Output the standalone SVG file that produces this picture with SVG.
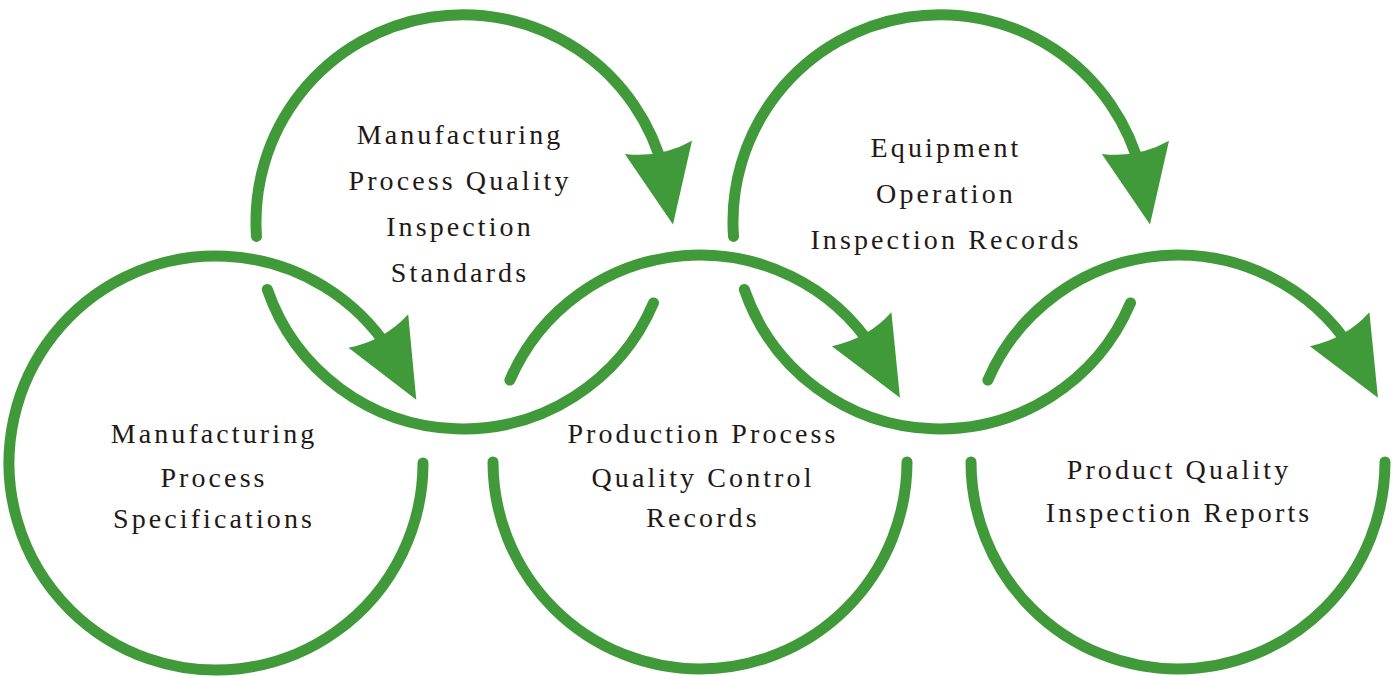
<svg xmlns="http://www.w3.org/2000/svg" xmlns:xlink="http://www.w3.org/1999/xlink" width="1393" height="678" viewBox="0 0 1393 678">
<style>
.ring{fill:none;stroke:#419a39;stroke-width:11;stroke-linecap:round}
.ah{fill:#419a39}
.lbl{font-family:"Liberation Serif","Times New Roman",serif;font-size:28px;letter-spacing:3.1px;fill:#231816;text-anchor:middle}
</style>
<defs>
<path id="ah" d="M210,0 L161,-70 Q197,-66 228,-84 Z"/>
</defs>
<rect width="1393" height="678" fill="#ffffff"/>
<g id="connectors">
<path class="ring" d="M423,463 A207,207 0 1 1 390.2,351.2"/>
<use href="#ah" class="ah" transform="translate(216,463) rotate(-17.5)"/>
<path class="ring" d="M256.5,236.4 A207,207 0 0 1 663.9,171.9"/>
<use href="#ah" class="ah" transform="translate(463,222) rotate(0.7)"/>
<path class="ring" d="M509.9,380.1 A207,207 0 0 1 874,349.9"/>
<use href="#ah" class="ah" transform="translate(700,462) rotate(-17.8)"/>
<path class="ring" d="M733.5,236.4 A207,207 0 0 1 1140.9,171.9"/>
<use href="#ah" class="ah" transform="translate(940,222) rotate(0.7)"/>
<path class="ring" d="M987.9,380.1 A207,207 0 0 1 1352,349.9"/>
<use href="#ah" class="ah" transform="translate(1178,462) rotate(-17.8)"/>
</g>
<g id="node1">
<text class="lbl" x="214" y="443">Manufacturing</text>
<text class="lbl" x="214" y="487">Process</text>
<text class="lbl" x="214" y="528">Specifications</text>
</g>
<g id="node2">
<path class="ring" d="M653.5,302.9 A207,207 0 0 1 267.3,289.4"/>
<text class="lbl" x="460" y="144">Manufacturing</text>
<text class="lbl" x="460" y="190">Process Quality</text>
<text class="lbl" x="460" y="236">Inspection</text>
<text class="lbl" x="460" y="282">Standards</text>
</g>
<g id="node3">
<path class="ring" d="M907,462 A207,207 0 0 1 493,462"/>
<text class="lbl" x="703" y="443">Production Process</text>
<text class="lbl" x="703" y="487">Quality Control</text>
<text class="lbl" x="703" y="527">Records</text>
</g>
<g id="node4">
<path class="ring" d="M1130.5,302.9 A207,207 0 0 1 744.3,289.4"/>
<text class="lbl" x="946" y="157">Equipment</text>
<text class="lbl" x="946" y="203">Operation</text>
<text class="lbl" x="946" y="249">Inspection Records</text>
</g>
<g id="node5">
<path class="ring" d="M1385,462 A207,207 0 0 1 971,462"/>
<text class="lbl" x="1179" y="479">Product Quality</text>
<text class="lbl" x="1179" y="522">Inspection Reports</text>
</g>
</svg>
